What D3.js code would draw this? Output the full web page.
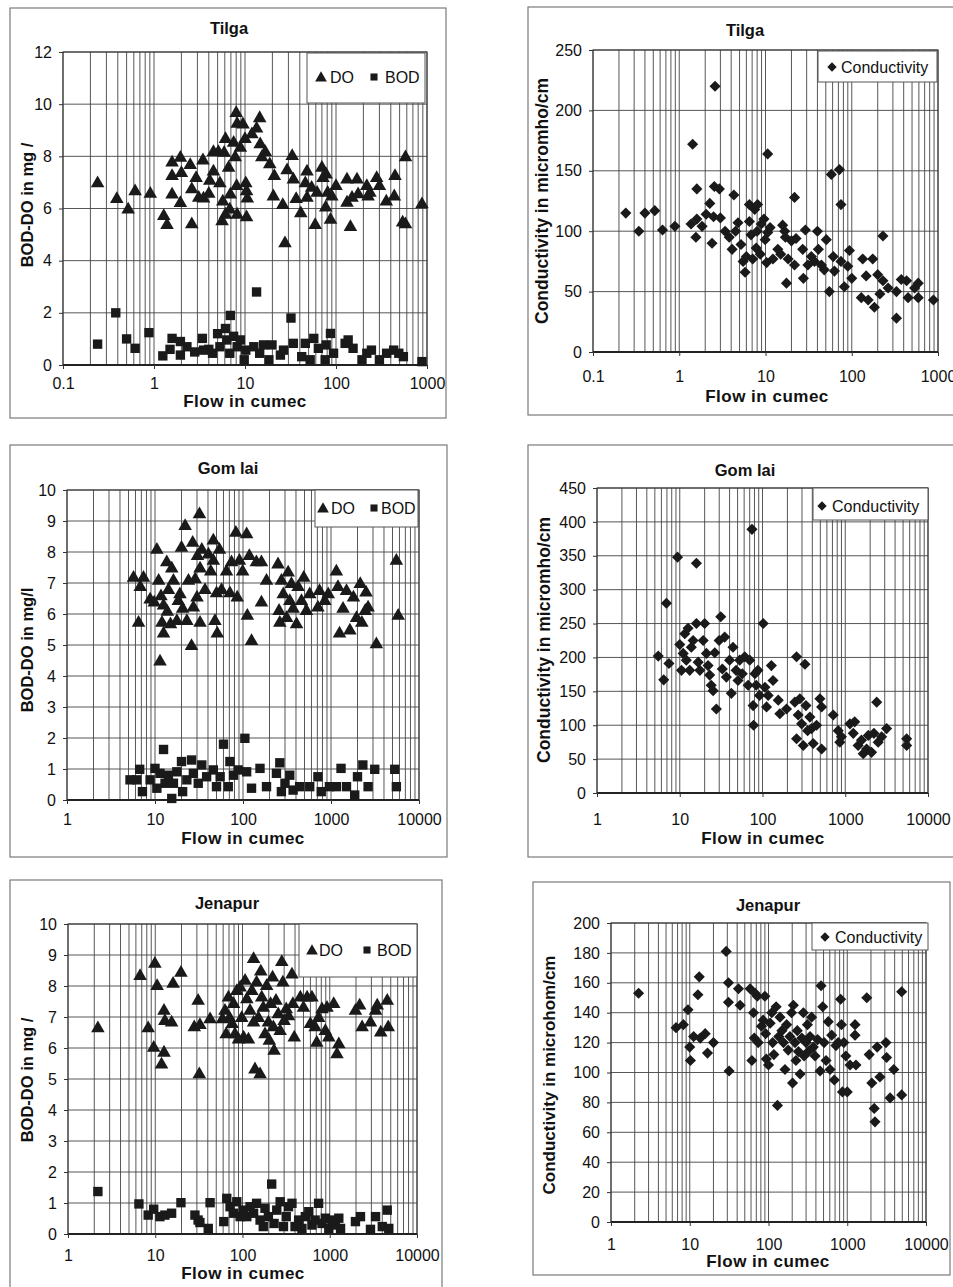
<!DOCTYPE html>
<html><head><meta charset="utf-8">
<script src="https://cdn.jsdelivr.net/npm/d3@7"></script>
<style>
body{margin:0;background:#fff}
svg{display:block}
text{font-family:"Liberation Sans",Arial,sans-serif;fill:#111}
</style>
</head><body>
<svg id="c" width="953" height="1287"></svg>
<script>
// ---------------- DATA ----------------
const titles = ["Tilga","Tilga","Gom lai","Gom lai","Jenapur","Jenapur"];
const yLabels = ["BOD-DO in mg /","Conductivity in micromho/cm","BOD-DO in mg/l","Conductivity in micromho/cm","BOD-DO in mg /","Conductivity in microhom/cm"];
const xLabel = "Flow in cumec";
const xTicksTilga = [0.1,1,10,100,1000];
const xTicksOther = [1,10,100,1000,10000];
const yTicksTilgaDO = [0,2,4,6,8,10,12];
const yTicksTilgaCond = [0,50,100,150,200,250];
const yTicksDO10 = [0,1,2,3,4,5,6,7,8,9,10];
const yTicksGomlaiCond = [0,50,100,150,200,250,300,350,400,450];
const yTicksJenapurCond = [0,20,40,60,80,100,120,140,160,180,200];
const legendDO = ["DO","BOD"];
const legendCond = ["Conductivity"];

const tilgaDO = [[0.24,7.0],[0.39,6.4],[0.52,6.0],[0.62,6.7],[0.91,6.6],[1.28,5.75],[1.39,5.4],[1.58,7.8],[1.58,7.28],[1.58,6.57],[1.95,7.98],[2.0,7.4],[1.95,6.25],[2.5,7.7],[2.6,6.77],[2.6,5.43],[2.9,7.2],[3.1,6.45],[3.45,7.88],[3.5,6.42],[4.0,6.6],[4.1,7.1],[4.5,7.45],[4.5,8.2],[5.1,8.2],[5.3,7.0],[5.7,6.3],[6.1,8.7],[5.9,8.17],[6.1,5.8],[5.6,5.55],[6.6,7.6],[6.9,6.57],[6.8,6.0],[7.5,8.56],[8.0,9.7],[8.2,9.28],[8.2,5.8],[8.1,6.9],[7.8,8.0],[8.9,8.36],[9.5,9.26],[10,8.7],[10.2,7.0],[10.4,6.7],[10.6,6.42],[10.4,5.7],[11.9,8.88],[13.4,9.1],[14.5,9.5],[14.7,8.5],[15.3,8.0],[16.7,8.2],[18.7,7.73],[21,7.28],[20.5,6.5],[26,6.17],[27.5,4.7],[29,7.5],[33,8.05],[34,7.15],[36.5,6.4],[41,5.85],[46,7.0],[48,7.45],[48,6.45],[54,6.83],[59,5.4],[62,6.64],[70,7.6],[72,7.2],[78,7.34],[77,6.07],[81,6.64],[87,5.6],[90,6.5],[100,6.9],[132,7.15],[132,6.26],[144,5.33],[150,6.45],[170,7.15],[175,6.58],[218,6.9],[225,6.5],[236,6.64],[280,7.2],[300,6.9],[357,6.3],[437,6.5],[445,7.28],[540,5.5],[580,8.0],[580,5.43],[880,6.2]];
const tilgaBOD = [[0.24,0.8],[0.38,2.0],[0.5,1.0],[0.62,0.64],[0.88,1.24],[1.25,0.35],[1.58,1.02],[1.5,0.6],[1.95,0.38],[1.95,0.9],[2.3,0.7],[2.8,0.5],[3.4,1.02],[3.5,0.57],[4.0,0.6],[4.4,0.45],[5.0,1.2],[5.3,0.7],[6.1,1.4],[6.3,0.96],[6.9,1.9],[6.8,0.45],[7.5,1.1],[8.2,0.7],[8.9,0.96],[9.8,0.2],[10.2,0.57],[12.5,0.7],[13.4,2.8],[14.5,0.45],[16,0.77],[18.3,0.2],[19.8,0.77],[24.5,0.38],[26.5,0.57],[32,1.8],[34,0.83],[42,0.32],[46,0.83],[52,0.2],[57,1.02],[64,0.64],[76,0.2],[78,0.77],[87,1.21],[94,0.45],[126,0.83],[136,0.96],[154,0.64],[193,0.2],[218,0.45],[245,0.57],[300,0.2],[360,0.45],[430,0.57],[490,0.45],[550,0.32],[880,0.13]];
const tilgaCond = [[0.24,115],[0.34,100],[0.4,115],[0.52,117],[0.64,101],[0.89,104],[1.37,106],[1.43,172],[1.56,95],[1.6,135],[1.6,110],[1.84,104],[2.05,114],[2.26,123],[2.4,90],[2.5,112],[2.6,220],[2.55,137],[2.92,135],[3.0,111],[3.4,100],[3.8,95],[4.1,85],[4.3,130],[4.5,100],[4.8,107],[5.2,89],[5.5,75],[5.8,66],[6.0,79],[6.5,122],[6.5,108],[6.8,97],[7.1,77],[7.5,118],[7.8,86],[8.1,122],[8.0,100],[8.7,81],[8.9,106],[9.6,110],[9.9,93],[10.3,74],[10.6,99],[10.6,164],[11.3,103],[12.2,77],[13.9,85],[15,81],[15.8,105],[16.7,100],[17,95],[17.5,57],[18.3,77],[20,92],[21.7,128],[21.7,72],[22.6,94],[27,85],[27.5,61],[29,101],[31,72],[34,79],[37,75],[40,100],[41,85],[44.5,72],[48,68],[50.7,93],[55,50],[58,147],[61,79],[63,67],[72,151],[75,122],[75,75],[82,54],[90,71],[94,84],[100,61],[129,45],[134,77],[147,63],[155,43],[175,77],[183,37],[200,64],[212,48],[230,96],[230,59],[264,53],[330,28],[330,50],[375,60],[432,59],[450,45],[536,53],[590,57],[590,45],[885,43]];

const gomlaiDO = [[5.7,7.2],[6.5,5.75],[6.8,6.9],[7.4,7.2],[8.8,6.5],[9.8,6.4],[10.5,8.1],[11,7.1],[11.4,4.5],[11.7,6.6],[12,5.75],[12.5,6.3],[12.5,5.4],[13.6,7.7],[13.8,6.1],[14.2,6.8],[15,5.7],[15.5,7.5],[16.2,7.1],[17.7,5.8],[18.4,6.45],[19.2,6.67],[20,8.17],[20.6,6.2],[22,8.87],[23,5.8],[24,7.1],[26,5.0],[26.8,8.33],[27.3,6.24],[28.6,7.15],[30,6.56],[30.4,7.9],[32,9.25],[32.5,5.75],[32.5,7.5],[34,8.1],[37,6.8],[40.5,7.95],[43,7.4],[46,8.4],[46,7.75],[48,5.8],[50,6.7],[51,5.4],[54,8.1],[57,6.8],[65,7.4],[71,6.7],[74,7.7],[83,8.65],[86,6.56],[91,7.75],[99,7.4],[110,8.6],[112,5.97],[118,7.9],[125,5.16],[142,7.7],[162,7.7],[162,6.4],[185,7.1],[250,7.63],[257,6.13],[262,5.75],[273,7.1],[287,6.67],[313,5.9],[326,7.37],[340,6.45],[355,7.0],[371,6.2],[406,5.7],[423,6.9],[462,6.45],[490,7.2],[525,6.13],[573,6.67],[710,6.24],[740,6.77],[850,6.45],[930,6.67],[1150,7.4],[1200,6.9],[1250,5.4],[1370,6.2],[1500,6.77],[1640,5.5],[1800,6.56],[1950,5.9],[2150,7.0],[2240,5.75],[2450,6.13],[2500,6.72],[2640,6.24],[3280,5.05],[5530,7.75],[5800,5.97]];
const gomlaiBOD = [[5.2,0.65],[6.2,0.65],[6.7,0.99],[7.2,0.27],[8.8,0.65],[10,1.02],[10.5,0.38],[11.4,0.86],[12.5,1.63],[13,0.54],[14.2,0.8],[15.5,0.05],[16.2,0.54],[17.7,0.91],[20,1.24],[20.6,0.27],[23,0.65],[26,1.29],[27.3,0.86],[31,0.54],[34,1.13],[38.6,0.75],[46,0.97],[50,0.43],[55,0.75],[60,1.8],[68,0.43],[71,1.24],[78,0.8],[88,0.97],[105,1.99],[110,0.91],[125,0.38],[156,1.02],[185,0.43],[240,0.86],[262,1.2],[273,0.27],[300,0.54],[340,0.8],[371,0.32],[440,0.43],[573,0.43],[710,0.75],[775,0.27],[960,0.43],[1150,0.43],[1300,1.02],[1500,0.43],[1860,0.16],[2000,0.75],[2300,1.13],[2640,0.43],[3140,0.99],[5300,0.99],[5530,0.43]];
const gomlaiCond = [[5.5,202],[6.4,167],[6.9,280],[7.4,191],[9.4,348],[10,219],[10.5,181],[11,206],[11.5,235],[12,196],[12.6,243],[13.2,181],[13.8,215],[14.5,225],[15.9,339],[15.9,250],[16.7,193],[17.5,181],[19.2,225],[20,250],[21,206],[22,188],[23,174],[24,159],[25.3,151],[26.5,207],[27.7,124],[29.9,225],[31.3,260],[32.7,183],[34.9,230],[36.6,171],[40,196],[42,147],[44,215],[48,181],[50.6,166],[53,196],[57,176],[61,201],[67,159],[70,196],[74.6,389],[77,129],[78,100],[81,176],[84,159],[88,181],[92,144],[102,250],[107,156],[112,127],[117,144],[128,188],[134,166],[155,137],[162,117],[195,124],[246,134],[258,201],[258,80],[270,115],[283,139],[297,102],[311,70],[326,190],[335,129],[351,92],[374,112],[392,95],[410,73],[450,100],[494,139],[518,65],[518,127],[716,115],[823,92],[860,75],[900,83],[1140,102],[1250,88],[1300,105],[1430,70],[1570,78],[1650,58],[1810,65],[1900,85],[2080,60],[2220,88],[2400,134],[2500,75],[2750,83],[3160,95],[5520,80],[5520,70]];

const jenapurDO = [[2.2,6.67],[6.7,8.35],[8.3,6.67],[9.6,6.04],[9.9,8.75],[10.5,8.03],[11.8,5.5],[12.6,5.88],[12.6,7.23],[12.9,6.9],[15.4,6.85],[16,8.1],[19.7,8.46],[28,6.7],[31,7.55],[32,5.18],[32.5,6.77],[42.5,6.96],[59,6.96],[63,7.23],[65,6.47],[69,7.66],[71,7.0],[76,6.8],[79,7.45],[82,6.47],[86,7.87],[90,6.3],[94,7.98],[98,7.0],[103,6.37],[107,8.2],[112,7.6],[117,6.3],[122,7.23],[128,7.87],[134,8.9],[134,6.85],[139,5.34],[145,8.14],[152,7.0],[159,5.18],[162,8.5],[166,7.66],[173,7.33],[181,6.47],[189,8.03],[198,6.85],[203,6.26],[210,7.45],[221,8.3],[226,6.7],[230,5.94],[242,7.55],[257,7.12],[270,6.58],[282,8.8],[290,8.14],[300,6.9],[317,7.28],[337,7.05],[369,8.4],[378,7.45],[392,6.37],[460,7.66],[500,7.33],[550,7.66],[600,6.8],[625,7.66],[680,6.7],[710,6.2],[745,7.0],[815,7.28],[890,6.58],[930,7.33],[975,6.37],[1110,7.45],[1210,5.83],[1270,6.15],[1970,7.23],[2200,7.4],[2350,6.7],[2930,6.85],[3350,7.23],[3500,7.4],[3840,6.53],[4560,7.55],[4680,6.7]];
const jenapurBOD = [[2.2,1.37],[6.5,0.97],[8.3,0.61],[9.6,0.8],[11.3,0.56],[12.9,0.61],[15.4,0.67],[19.7,1.01],[28.5,0.61],[31,0.45],[32.5,0.37],[40.5,0.18],[42.5,1.01],[61,0.4],[66,1.15],[72,0.88],[79,0.67],[86,1.04],[94,0.56],[103,0.77],[112,0.56],[122,0.88],[134,0.67],[145,0.99],[159,0.45],[173,0.24],[181,0.83],[198,0.56],[216,1.61],[230,0.34],[247,0.77],[270,1.04],[295,0.24],[317,0.56],[337,0.88],[369,0.99],[400,0.24],[440,0.45],[480,0.18],[525,0.56],[575,0.72],[625,0.29],[680,0.45],[745,0.99],[815,0.34],[890,0.51],[975,0.18],[1060,0.45],[1160,0.29],[1270,0.51],[1330,0.18],[1970,0.4],[2250,0.56],[2930,0.15],[3350,0.56],[4000,0.24],[4560,0.77],[4750,0.18]];
const jenapurCond = [[2.24,153],[6.7,130],[8.3,132],[9.5,142],[10,117],[10.2,108],[11.2,124],[12.7,152],[13.2,164],[13.6,123],[15.7,126],[16.8,113],[20,120],[29,181],[31,160],[31,147],[31.6,101],[41.6,156],[43.6,145],[58.5,156],[61.5,108],[64.5,140],[66,123],[67.6,153],[72,151],[74,120],[81.5,131],[85.5,135],[90,151],[92,126],[94,109],[100,105],[105,133],[110,140],[113,120],[117,112],[125,144],[130,78],[135,124],[140,137],[148,128],[155,120],[162,102],[170,132],[178,115],[187,124],[196,140],[202,93],[207,145],[217,120],[223,108],[232,128],[240,114],[252,99],[265,123],[277,140],[283,111],[300,120],[312,132],[320,114],[337,124],[353,137],[371,117],[390,111],[420,122],[452,101],[465,158],[488,144],[508,120],[538,108],[574,134],[605,102],[635,125],[685,95],[718,118],[768,120],[824,149],[845,132],[870,87],[905,120],[960,111],[1000,87],[1085,105],[1256,132],[1256,125],[1290,105],[1770,150],[1900,112],[2050,93],[2200,76],[2250,67],[2400,117],[2600,97],[3100,120],[3160,110],[3500,83],[3900,102],[4910,154],[4910,85]];

// ---------------- LAYOUT ----------------
const panels = [
 {frame:[10,8,446,418], plot:[63,427,52,365], xd:[0.1,1000], xt:xTicksTilga, yt:yTicksTilgaDO,
  ylabX:27, ylabY:205, ylabFs:16.5, titleY:34, titleX:229, xtY:389, xlY:407, xlX:245,
  series:[{d:tilgaDO,s:"tri"},{d:tilgaBOD,s:"sq"}],
  leg:{box:[307,53,425,103], cy:77, items:[{s:"tri",x:321,tx:330},{s:"sq",x:374,tx:385}]}},
 {frame:[528,7,960,415], plot:[593,938,50,352], xd:[0.1,1000], xt:xTicksTilga, yt:yTicksTilgaCond,
  ylabX:542, ylabY:201, ylabFs:17.5, titleY:36, titleX:745, xtY:382, xlY:402, xlX:767,
  series:[{d:tilgaCond,s:"dia"}],
  leg:{box:[818,51,937,82], cy:67, items:[{s:"dia",x:832,tx:841}]}},
 {frame:[10,445,447,857], plot:[67,419,490,800], xd:[1,10000], xt:xTicksOther, yt:yTicksDO10,
  ylabX:27, ylabY:650, ylabFs:16.5, titleY:474, titleX:228, xtY:825, xlY:844, xlX:243,
  series:[{d:gomlaiDO,s:"tri"},{d:gomlaiBOD,s:"sq"}],
  leg:{box:[315,490,418,527], cy:508, items:[{s:"tri",x:323,tx:331},{s:"sq",x:374,tx:381}]}},
 {frame:[528,445,960,857], plot:[597,928,488,793], xd:[1,10000], xt:xTicksOther, yt:yTicksGomlaiCond,
  ylabX:544, ylabY:640, ylabFs:17.5, titleY:476, titleX:745, xtY:825, xlY:844, xlX:763,
  series:[{d:gomlaiCond,s:"dia"}],
  leg:{box:[813,488,928,520], cy:506, items:[{s:"dia",x:822,tx:832}]}},
 {frame:[10,880,442,1295], plot:[68,417,924,1234], xd:[1,10000], xt:xTicksOther, yt:yTicksDO10,
  ylabX:27, ylabY:1080, ylabFs:16.5, titleY:909, titleX:227, xtY:1261, xlY:1279, xlX:243,
  series:[{d:jenapurDO,s:"tri"},{d:jenapurBOD,s:"sq"}],
  leg:{box:[299,924,417,977], cy:950, items:[{s:"tri",x:312,tx:319},{s:"sq",x:367,tx:377}]}},
 {frame:[533,882,950,1275], plot:[611,926,923,1222], xd:[1,10000], xt:xTicksOther, yt:yTicksJenapurCond,
  ylabX:549, ylabY:1075, ylabFs:17, titleY:911, titleX:768, xtY:1250, xlY:1267, xlX:768,
  series:[{d:jenapurCond,s:"dia"}],
  leg:{box:[812,923,928,950], cy:937, items:[{s:"dia",x:825,tx:835}]}}
];
const legendTexts = [legendDO, legendCond, legendDO, legendCond, legendDO, legendCond];

const svg = d3.select("#c");
const ink = "#1a1a1a", grid = "#444";
const symGen = {
  tri: d3.symbol().type(d3.symbolTriangle).size(80),
  sq: d3.symbol().type(d3.symbolSquare).size(88),
  dia: d3.symbol().type(d3.symbolSquare).size(62)
};
function drawSym(g, s, x, y){
  const p = g.append("path").attr("d", symGen[s]()).attr("fill", ink);
  if (s === "dia") p.attr("transform", `translate(${x},${y}) rotate(45)`);
  else if (s === "tri") p.attr("transform", `translate(${x},${y+1})`);
  else p.attr("transform", `translate(${x},${y})`);
}

panels.forEach((P, i) => {
  const g = svg.append("g");
  const [fx0, fy0, fx1, fy1] = P.frame;
  g.append("rect").attr("x", fx0).attr("y", fy0).attr("width", fx1-fx0).attr("height", fy1-fy0)
    .attr("fill", "#fff").attr("stroke", "#7a7a7a").attr("stroke-width", 1.2);
  const [px0, px1, py0, py1] = P.plot;
  const x = d3.scaleLog().domain(P.xd).range([px0, px1]);
  const y = d3.scaleLinear().domain([P.yt[0], P.yt[P.yt.length-1]]).range([py1, py0]);

  const vlines = [];
  for (let e = Math.round(Math.log10(P.xd[0])); e < Math.round(Math.log10(P.xd[1])); e++) {
    for (let k = 2; k <= 9; k++) vlines.push(k * Math.pow(10, e));
  }
  P.xt.forEach(v => vlines.push(v));
  g.append("g").selectAll("line").data(vlines).join("line")
    .attr("x1", d => x(d)).attr("x2", d => x(d)).attr("y1", py0).attr("y2", py1)
    .attr("stroke", grid).attr("stroke-width", 0.9);
  g.append("g").selectAll("line").data(P.yt).join("line")
    .attr("x1", px0).attr("x2", px1).attr("y1", d => y(d)).attr("y2", d => y(d))
    .attr("stroke", grid).attr("stroke-width", 0.9);
  g.append("rect").attr("x", px0).attr("y", py0).attr("width", px1-px0).attr("height", py1-py0)
    .attr("fill", "none").attr("stroke", "#333").attr("stroke-width", 1);
  g.append("line").attr("x1", px0).attr("x2", px1).attr("y1", py1).attr("y2", py1)
    .attr("stroke", "#222").attr("stroke-width", 1.8);

  const xa = g.append("g").attr("transform", `translate(0,${py1})`)
    .call(d3.axisBottom(x).tickValues(P.xt).tickSize(4).tickFormat(d => String(+d.toPrecision(6))));
  xa.select(".domain").remove();
  xa.selectAll("line").attr("stroke", "#333");
  xa.selectAll("text").attr("y", null).attr("dy", null)
    .attr("transform", `translate(0,${P.xtY - py1})`)
    .attr("font-size", 16).attr("fill", "#111");
  const ya = g.append("g").attr("transform", `translate(${px0},0)`)
    .call(d3.axisLeft(y).tickValues(P.yt).tickSize(4).tickPadding(7));
  ya.select(".domain").remove();
  ya.selectAll("line").attr("stroke", "#333");
  ya.selectAll("text").attr("font-size", 16).attr("fill", "#111");
  svg.selectAll(".tick text").attr("font-family", '"Liberation Sans",Arial,sans-serif');

  g.append("text").attr("x", P.titleX).attr("y", P.titleY).attr("text-anchor", "middle")
    .attr("font-weight", "bold").attr("font-size", 16.5).text(titles[i]);
  g.append("text").attr("x", P.xlX).attr("y", P.xlY).attr("text-anchor", "middle")
    .attr("font-weight", "bold").attr("font-size", 17).attr("letter-spacing", 0.5).text(xLabel);
  g.append("text").attr("transform", `translate(${P.ylabX},${P.ylabY}) rotate(-90)`)
    .attr("text-anchor", "middle").attr("dy", 6)
    .attr("font-weight", "bold").attr("font-size", P.ylabFs).text(yLabels[i]);

  P.series.forEach(S => {
    const sg = g.append("g");
    S.d.forEach(d => drawSym(sg, S.s, x(d[0]), y(d[1])));
  });

  const [lx0, ly0, lx1, ly1] = P.leg.box;
  g.append("rect").attr("x", lx0).attr("y", ly0).attr("width", lx1-lx0).attr("height", ly1-ly0)
    .attr("fill", "#fff").attr("stroke", "#555").attr("stroke-width", 1);
  P.leg.items.forEach((it, j) => {
    const s = it.s;
    const lg = g.append("g");
    if (s === "tri") lg.append("path").attr("d", d3.symbol().type(d3.symbolTriangle).size(60)())
      .attr("transform", `translate(${it.x},${P.leg.cy+1})`).attr("fill", ink);
    else if (s === "sq") lg.append("path").attr("d", d3.symbol().type(d3.symbolSquare).size(50)())
      .attr("transform", `translate(${it.x},${P.leg.cy})`).attr("fill", ink);
    else lg.append("path").attr("d", d3.symbol().type(d3.symbolSquare).size(44)())
      .attr("transform", `translate(${it.x},${P.leg.cy}) rotate(45)`).attr("fill", ink);
    g.append("text").attr("x", it.tx).attr("y", P.leg.cy + 6).attr("font-size", 16)
      .text(legendTexts[i][j]);
  });
});
</script>
</body></html>
